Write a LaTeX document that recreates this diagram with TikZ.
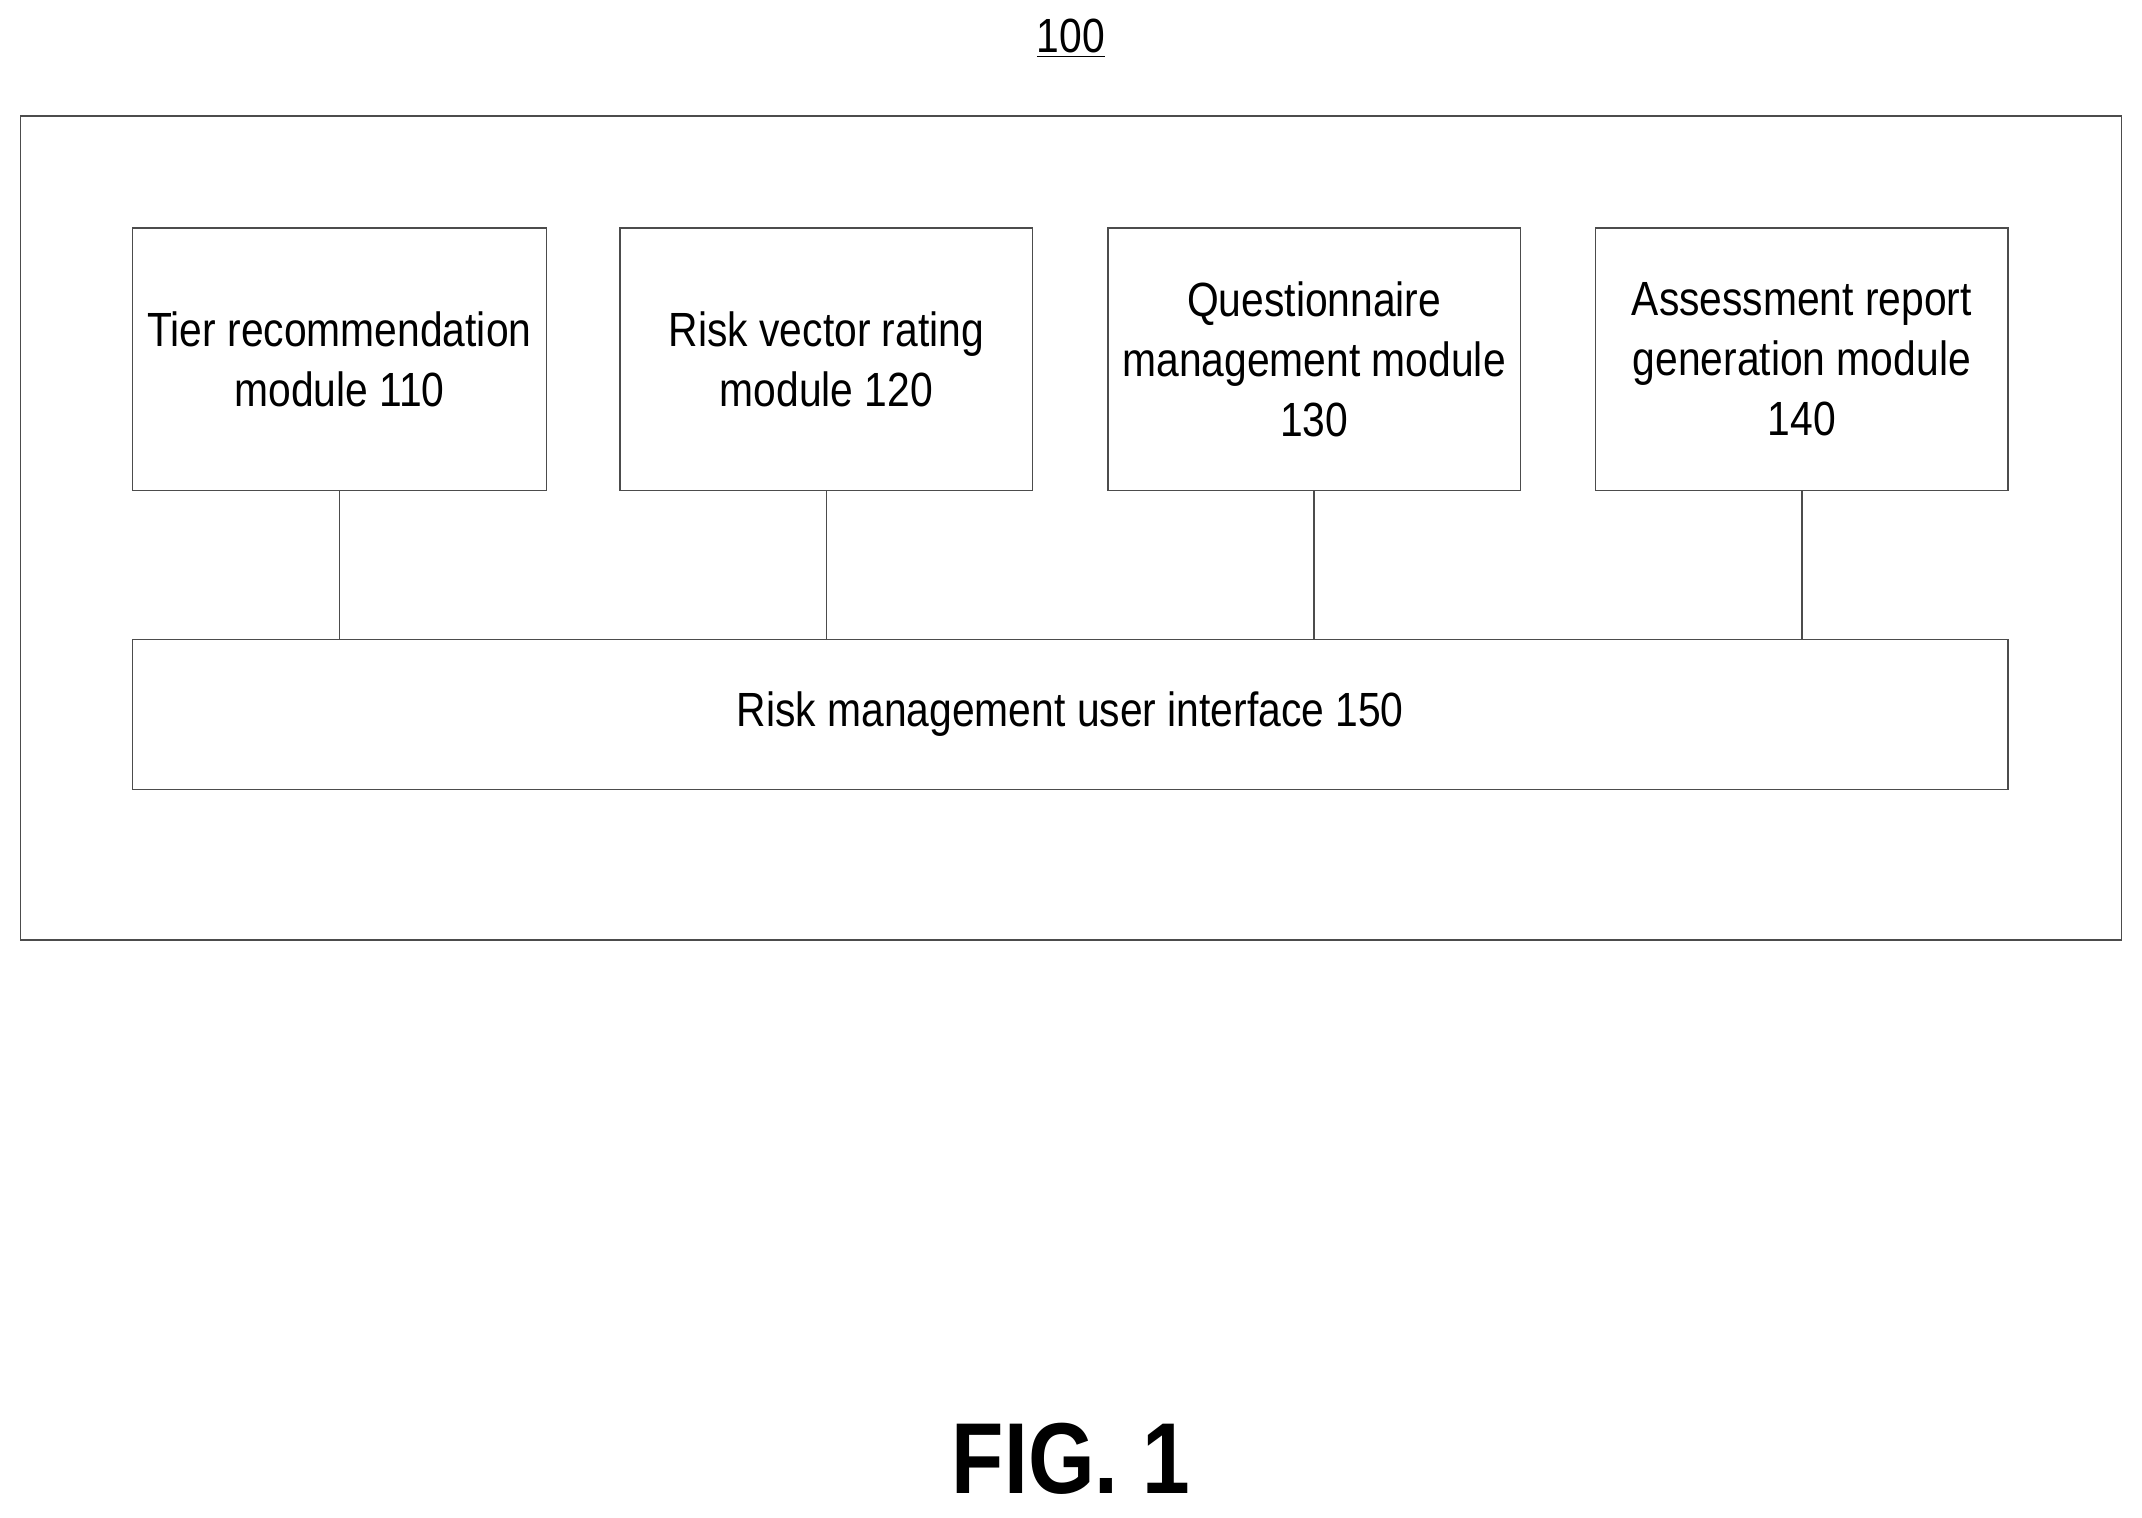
\documentclass[tikz,border=0pt]{standalone}
\usepackage{fontspec}
\setmainfont{Liberation Sans}[FakeStretch=0.85]
\begin{document}
\begin{tikzpicture}[x=0.02cm,y=-0.02cm,
  box/.style={draw=black!70,line width=0.6pt},
  lbl/.style={align=center,font=\fontsize{20}{25}\selectfont},
  conn/.style={draw=black!70,line width=0.6pt}]
\useasboundingbox (0,0) rectangle (1568,1111);
\draw[box] (15,85) rectangle (1553,688);
\node[box,minimum width=303*0.02cm,minimum height=192*0.02cm,lbl] (m1) at (248.5,263) {Tier recommendation\\module 110};
\node[box,minimum width=302*0.02cm,minimum height=192*0.02cm,lbl] (m2) at (605,263) {Risk vector rating\\module 120};
\node[box,minimum width=302*0.02cm,minimum height=192*0.02cm,lbl] (m3) at (962,263) {Questionnaire\\management module\\130};
\node[box,minimum width=302*0.02cm,minimum height=192*0.02cm,lbl] (m4) at (1319,263) {Assessment report\\generation module\\140};
\node[box,minimum width=1373*0.02cm,minimum height=110*0.02cm,lbl] (ui) at (783.5,523) {Risk management user interface 150};
\foreach \m in {m1,m2,m3,m4} \draw[conn] (\m.south) -- (\m.south |- ui.north);
\node[lbl] (t) at (784,28) {\underline{100}};
\node[font=\fontsize{42}{46}\selectfont\bfseries] (fig) at (784,1068) {FIG. 1};
\end{tikzpicture}
\end{document}
